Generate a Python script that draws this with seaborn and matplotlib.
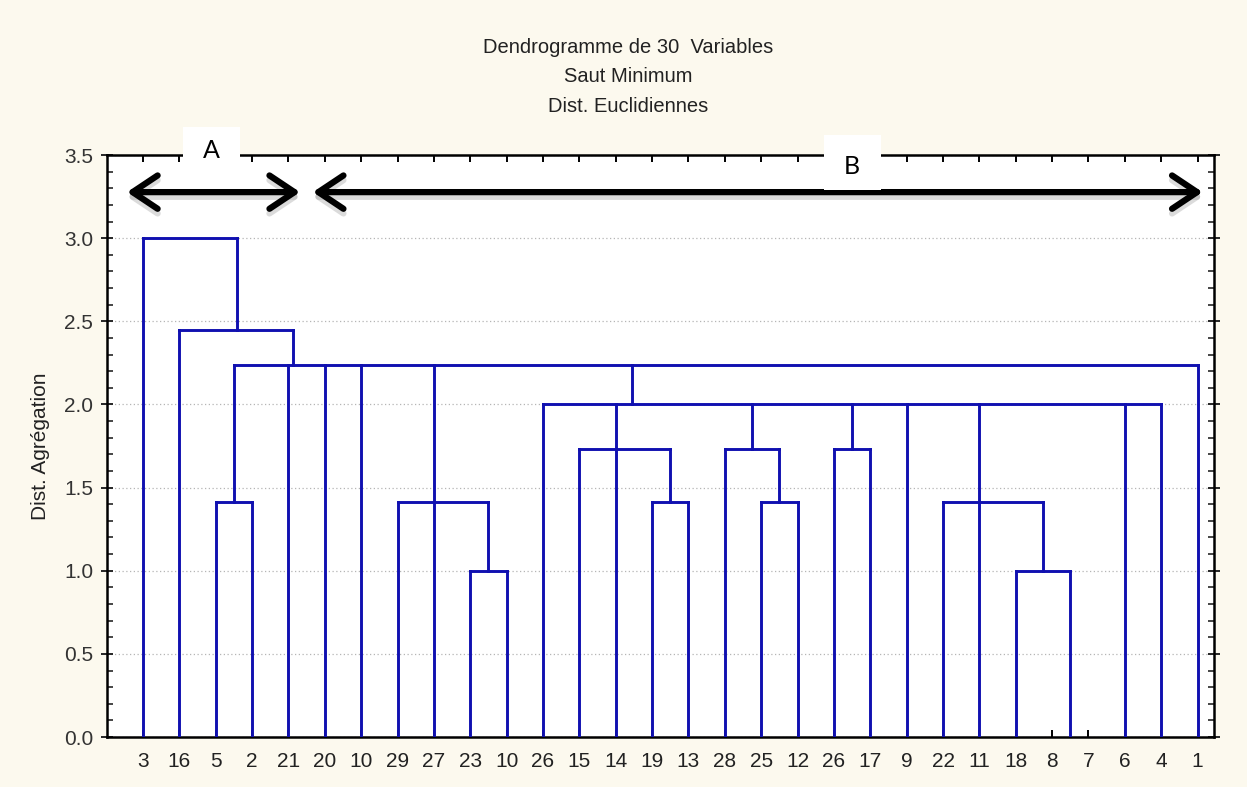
import matplotlib
matplotlib.use("Agg")
import matplotlib.pyplot as plt
from matplotlib.patches import Rectangle
from matplotlib.ticker import MultipleLocator, FormatStrFormatter
import pandas as pd
import seaborn as sns

# leaf order along the x axis
leaf_labels = ["3", "16", "5", "2", "21", "20", "10", "29", "27", "23",
               "10", "26", "15", "14", "19", "13", "28", "25", "12", "26",
               "17", "9", "22", "11", "18", "8", "7", "6", "4", "1"]

# agglomeration steps (single linkage): height of each merge
cluster_heights = [0.0, 1.0, 1.0, 1.414, 1.414, 1.414, 1.414, 1.414,
                   1.732, 1.732, 1.732, 2.0, 2.236, 2.449, 3.0]
# members joined at each step: leaves "L<i>" or earlier clusters "C<j>"
cluster_members = [
    ["L25", "L26"],
    ["L9", "L10"],
    ["L24", "C0"],
    ["L2", "L3"],
    ["L7", "L8", "C1"],
    ["L14", "L15"],
    ["L17", "L18"],
    ["L22", "L23", "C2"],
    ["L12", "L13", "C5"],
    ["L16", "C6"],
    ["L19", "L20"],
    ["L11", "C8", "C9", "C10", "L21", "C7", "L27", "L28"],
    ["C3", "L4", "L5", "L6", "C4", "C11", "L29"],
    ["L1", "C12"],
    ["L0", "C13"],
]
# where each cluster's stem rises, in leaf units
cluster_stem = [25.5, 9.5, 24.75, 2.5, 8, 14.5, 17.5, 23, 13, 16.75,
                19.5, 13.45, 4.12, 2.58, 1.29]

group_labels = ["A", "B"]

sns.set_style("white")
plt.rcParams["font.family"] = ["Liberation Sans", "DejaVu Sans"]

# build the elbow segments of the tree
def node_pos(name):
    idx = int(name[1:])
    if name[0] == "L":
        return float(idx), 0.0
    return cluster_stem[idx], cluster_heights[idx]

rows = []
seg = 0
for c, (h, members) in enumerate(zip(cluster_heights, cluster_members)):
    xs = []
    for m in members:
        mx, mh = node_pos(m)
        xs.append(mx)
        if h > mh:
            rows += [(seg, mx, mh), (seg, mx, h)]
            seg += 1
    if h > 0:
        rows += [(seg, min(xs), h), (seg, max(xs), h)]
        seg += 1
segments = pd.DataFrame(rows, columns=["seg", "x", "y"])

fig = plt.figure(figsize=(12.47, 7.87), dpi=100, facecolor="#fcf9ee")
ax = fig.add_axes([0.0858, 0.0635, 0.8877, 0.7395])
ax.set_facecolor("white")

sns.lineplot(data=segments, x="x", y="y", units="seg", estimator=None,
             sort=False, color="#1010b0", linewidth=2.1, legend=False,
             solid_capstyle="projecting", ax=ax, zorder=3)

ax.set_xlim(-0.99, 29.45)
ax.set_ylim(0, 3.5)
ax.set_xticks(range(len(leaf_labels)))
ax.set_xticklabels(leaf_labels)
ax.yaxis.set_major_locator(MultipleLocator(0.5))
ax.yaxis.set_minor_locator(MultipleLocator(0.1))
ax.yaxis.set_major_formatter(FormatStrFormatter("%.1f"))
ax.grid(False)
ax.yaxis.grid(True, which="major", linestyle=(0, (1, 2)), color="#b5b5b5",
              linewidth=0.9)
ax.set_axisbelow(True)

ax.tick_params(axis="x", which="both", direction="in", length=5, width=1.4,
               top=True, bottom=True, labelsize=15, pad=11, color="black",
               labelcolor="#222222")
ax.tick_params(axis="y", which="major", direction="inout", length=8,
               width=1.4, left=True, right=True, labelsize=15, pad=6,
               labelcolor="#333333")
ax.tick_params(axis="y", which="minor", direction="in", length=4,
               width=1.2, left=True, right=True)
for s in ax.spines.values():
    s.set_color("black")
    s.set_linewidth(1.8)

ax.set_xlabel("")
ax.set_ylabel("Dist. Agrégation", fontsize=15, labelpad=10, color="#222222")

title_lines = ["Dendrogramme de 30  Variables", "Saut Minimum",
               "Dist. Euclidiennes"]
for t, yy in zip(title_lines, [0.940, 0.903, 0.865]):
    fig.text(0.504, yy, t, ha="center", va="center", fontsize=14.5,
             color="#222222")

# group arrows with a soft shadow
arrow_spans = [(-0.44, 4.32), (4.67, 29.14)]
arrow_y = 3.277
for x0, x1 in arrow_spans:
    for dy, col, a, z in [(-0.028, "#9a9a9a", 0.35, 6), (0.0, "black", 1.0, 7)]:
        ax.annotate("", xy=(x1, arrow_y + dy), xytext=(x0, arrow_y + dy),
                    xycoords="data", annotation_clip=False,
                    arrowprops=dict(arrowstyle="<->,head_length=0.9,head_width=0.6",
                                    lw=4.5, color=col, alpha=a,
                                    shrinkA=0, shrinkB=0, mutation_scale=20,
                                    capstyle="round", joinstyle="round"),
                    zorder=z)

# white label boxes
boxes = [(1.10, 3.43, 1.57, 0.24), (18.72, 3.29, 1.57, 0.33)]
text_pos = [(1.88, 3.53), (19.5, 3.43)]
for (bx, by, bw, bh), (tx, ty), lab in zip(boxes, text_pos, group_labels):
    ax.add_patch(Rectangle((bx, by), bw, bh, facecolor="white",
                           edgecolor="none", clip_on=False, zorder=8))
    ax.text(tx, ty, lab, ha="center", va="center", fontsize=18,
            family=["Lato", "DejaVu Sans"], color="black", zorder=9,
            clip_on=False)

fig.savefig("out.png", dpi=100, facecolor=fig.get_facecolor())
